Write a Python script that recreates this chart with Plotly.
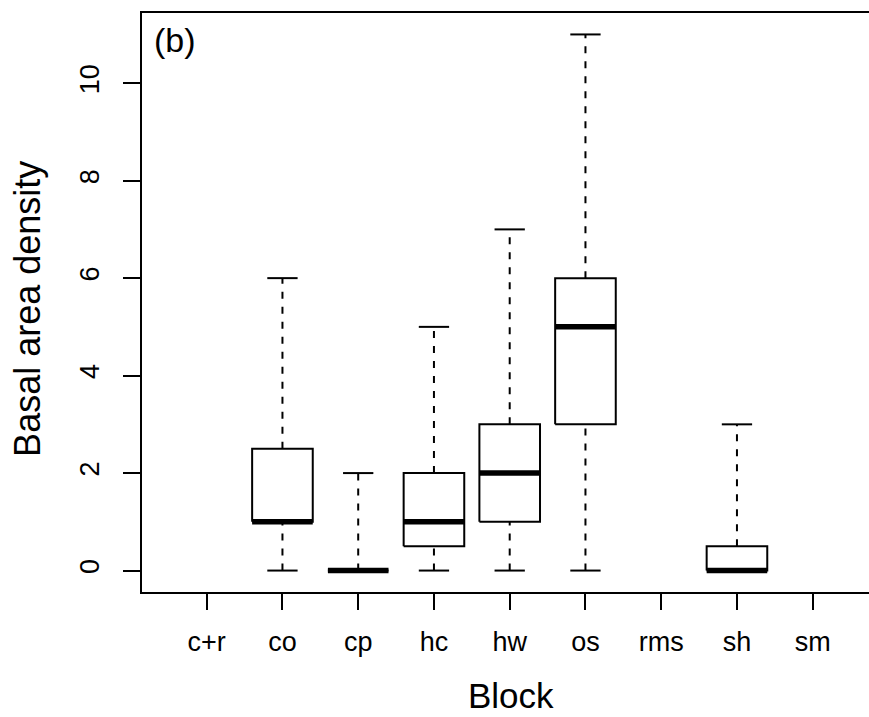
import plotly.graph_objects as go

blocks = ["c+r", "co", "cp", "hc", "hw", "os", "rms", "sh", "sm"]
lower = [None, 0, 0, 0, 0, 0, None, 0, None]
q1 = [None, 1, 0, 0.5, 1, 3, None, 0, None]
median = [None, 1, 0, 1, 2, 5, None, 0, None]
q3 = [None, 2.5, 0, 2, 3, 6, None, 0.5, None]
upper = [None, 6, 2, 5, 7, 11, None, 3, None]
y_ticks = [0, 2, 4, 6, 8, 10]

BW = 0.4   # half box width (boxwex 0.8)
CW = 0.2   # half staple width

bx, by, mx, my, wx, wy, cx, cy = [], [], [], [], [], [], [], []
for i, name in enumerate(blocks):
    if median[i] is None:
        continue
    p = i + 1
    bx += [p - BW, p + BW, p + BW, p - BW, p - BW, None]
    by += [q1[i], q1[i], q3[i], q3[i], q1[i], None]
    mx += [p - BW, p + BW, None]
    my += [median[i], median[i], None]
    wx += [p, p, None, p, p, None]
    wy += [q3[i], upper[i], None, lower[i], q1[i], None]
    cx += [p - CW, p + CW, None, p - CW, p + CW, None]
    cy += [upper[i], upper[i], None, lower[i], lower[i], None]

fig = go.Figure()
fig.add_trace(go.Scatter(x=wx, y=wy, mode="lines", hoverinfo="skip",
                         line=dict(color="black", width=2, dash="7px,8px")))
fig.add_trace(go.Scatter(x=cx, y=cy, mode="lines", hoverinfo="skip",
                         line=dict(color="black", width=2)))
fig.add_trace(go.Scatter(x=bx, y=by, mode="lines", hoverinfo="skip",
                         line=dict(color="black", width=2)))
fig.add_trace(go.Scatter(x=mx, y=my, mode="lines", hoverinfo="skip",
                         line=dict(color="black", width=5.5)))

font = "Liberation Sans, Arial, Helvetica, sans-serif"
fig.update_layout(
    width=869, height=717,
    margin=dict(l=142, r=0, t=13, b=125),
    paper_bgcolor="white", plot_bgcolor="white",
    showlegend=False,
    font=dict(family=font, color="black", size=27),
    xaxis=dict(range=[0.146, 9.743], tickmode="array",
               tickvals=list(range(1, len(blocks) + 1)), ticktext=blocks,
               showgrid=False, zeroline=False, showline=True, mirror=True,
               linecolor="black", linewidth=2, ticks="outside", ticklen=16,
               tickwidth=2, tickcolor="black", ticklabelstandoff=9,
               tickfont=dict(size=27, family=font, color="black")),
    yaxis=dict(range=[-0.44, 11.44], tickmode="array", tickvals=y_ticks,
               ticktext=[str(v) for v in y_ticks],
               showgrid=False, zeroline=False, showline=True, mirror=False,
               linecolor="black", linewidth=2, ticks="outside", ticklen=17,
               tickwidth=2, tickcolor="black", tickangle=-90,
               ticklabelstandoff=13,
               tickfont=dict(size=27, family=font, color="black")),
    annotations=[
        dict(text="Block", xref="paper", yref="paper", x=0.507, y=-0.1785,
             xanchor="center", yanchor="middle", showarrow=False,
             font=dict(size=35, family=font, color="black")),
        dict(text="Basal area density", xref="paper", yref="paper",
             x=-0.1568, y=0.489, xanchor="center", yanchor="middle",
             textangle=-90, showarrow=False,
             font=dict(size=36, family=font, color="black")),
        dict(text="(b)", xref="paper", yref="paper", x=0.0138, y=0.953,
             xanchor="left", yanchor="middle", showarrow=False,
             font=dict(size=34, family=font, color="black")),
    ],
)
fig.write_html("out.html")
